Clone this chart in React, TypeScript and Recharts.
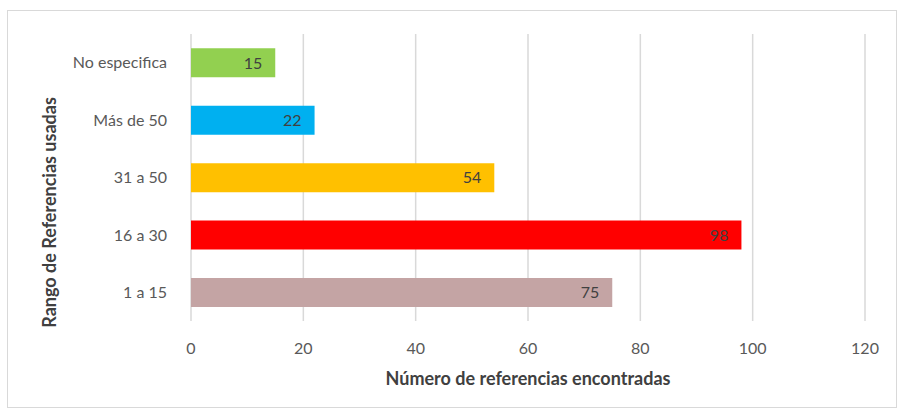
import { Bar, BarChart, CartesianGrid, Cell, LabelList, XAxis, YAxis } from 'recharts';

const categories = ['No especifica', 'Más de 50', '31 a 50', '16 a 30', '1 a 15'];
const counts = [15, 22, 54, 98, 75];
const colors = ['#92D050', '#00B0F0', '#FFC000', '#FF0000', '#C4A4A4'];
const xTicks = [0, 20, 40, 60, 80, 100, 120];

const data = categories.map((name, i) => ({ name, value: counts[i] }));

const font = 'Lato, "Open Sans", sans-serif';

export default function App() {
  return (
    <div style={{ position: 'absolute', left: 0, top: 0, width: 903, height: 410, background: '#fff', fontFamily: font }}>
      <div
        style={{
          position: 'absolute',
          left: 7,
          top: 10,
          width: 888,
          height: 396,
          border: '1px solid #D9D9D9',
        }}
      />
      <BarChart
        width={903}
        height={410}
        data={data}
        layout="vertical"
        margin={{ top: 34, right: 38, bottom: 0, left: 8 }}
        barCategoryGap="25%"
        style={{ position: 'absolute', left: 0, top: 0 }}
      >
        <CartesianGrid horizontal={false} stroke="#D9D9D9" strokeWidth={1.5} />
        <XAxis
          type="number"
          domain={[0, 120]}
          ticks={xTicks}
          axisLine={false}
          tickLine={false}
          tickMargin={16}
          height={89}
          tick={{ fill: '#595959', fontSize: 16, fontFamily: font }}
          label={{
            content: ({ viewBox }: any) => (
              <text
                x={viewBox.x + viewBox.width / 2}
                y={viewBox.y + 64}
                textAnchor="middle"
                fill="#404040"
                fontSize={18}
                fontWeight="bold"
                fontFamily={font}
              >
                Número de referencias encontradas
              </text>
            ),
          }}
        />
        <YAxis
          type="category"
          dataKey="name"
          width={183}
          axisLine={false}
          tickLine={false}
          tickMargin={18}
          tick={{ fill: '#595959', fontSize: 16, fontFamily: font }}
          label={{
            content: ({ viewBox }: any) => {
              const cx = viewBox.x + 41;
              const cy = viewBox.y + viewBox.height / 2 + 35;
              return (
                <text
                  x={cx}
                  y={cy}
                  transform={`rotate(-90, ${cx}, ${cy})`}
                  textAnchor="middle"
                  dominantBaseline="central"
                  fill="#404040"
                  fontSize={18}
                  fontWeight="bold"
                  fontFamily={font}
                >
                  Rango de Referencias usadas
                </text>
              );
            },
          }}
        />
        <Bar dataKey="value" isAnimationActive={false}>
          {data.map((d, i) => (
            <Cell key={d.name} fill={colors[i]} />
          ))}
          <LabelList
            dataKey="value"
            position="insideRight"
            offset={13}
            fill="#404040"
            fontSize={16}
            fontFamily={font}
          />
        </Bar>
      </BarChart>
    </div>
  );
}
